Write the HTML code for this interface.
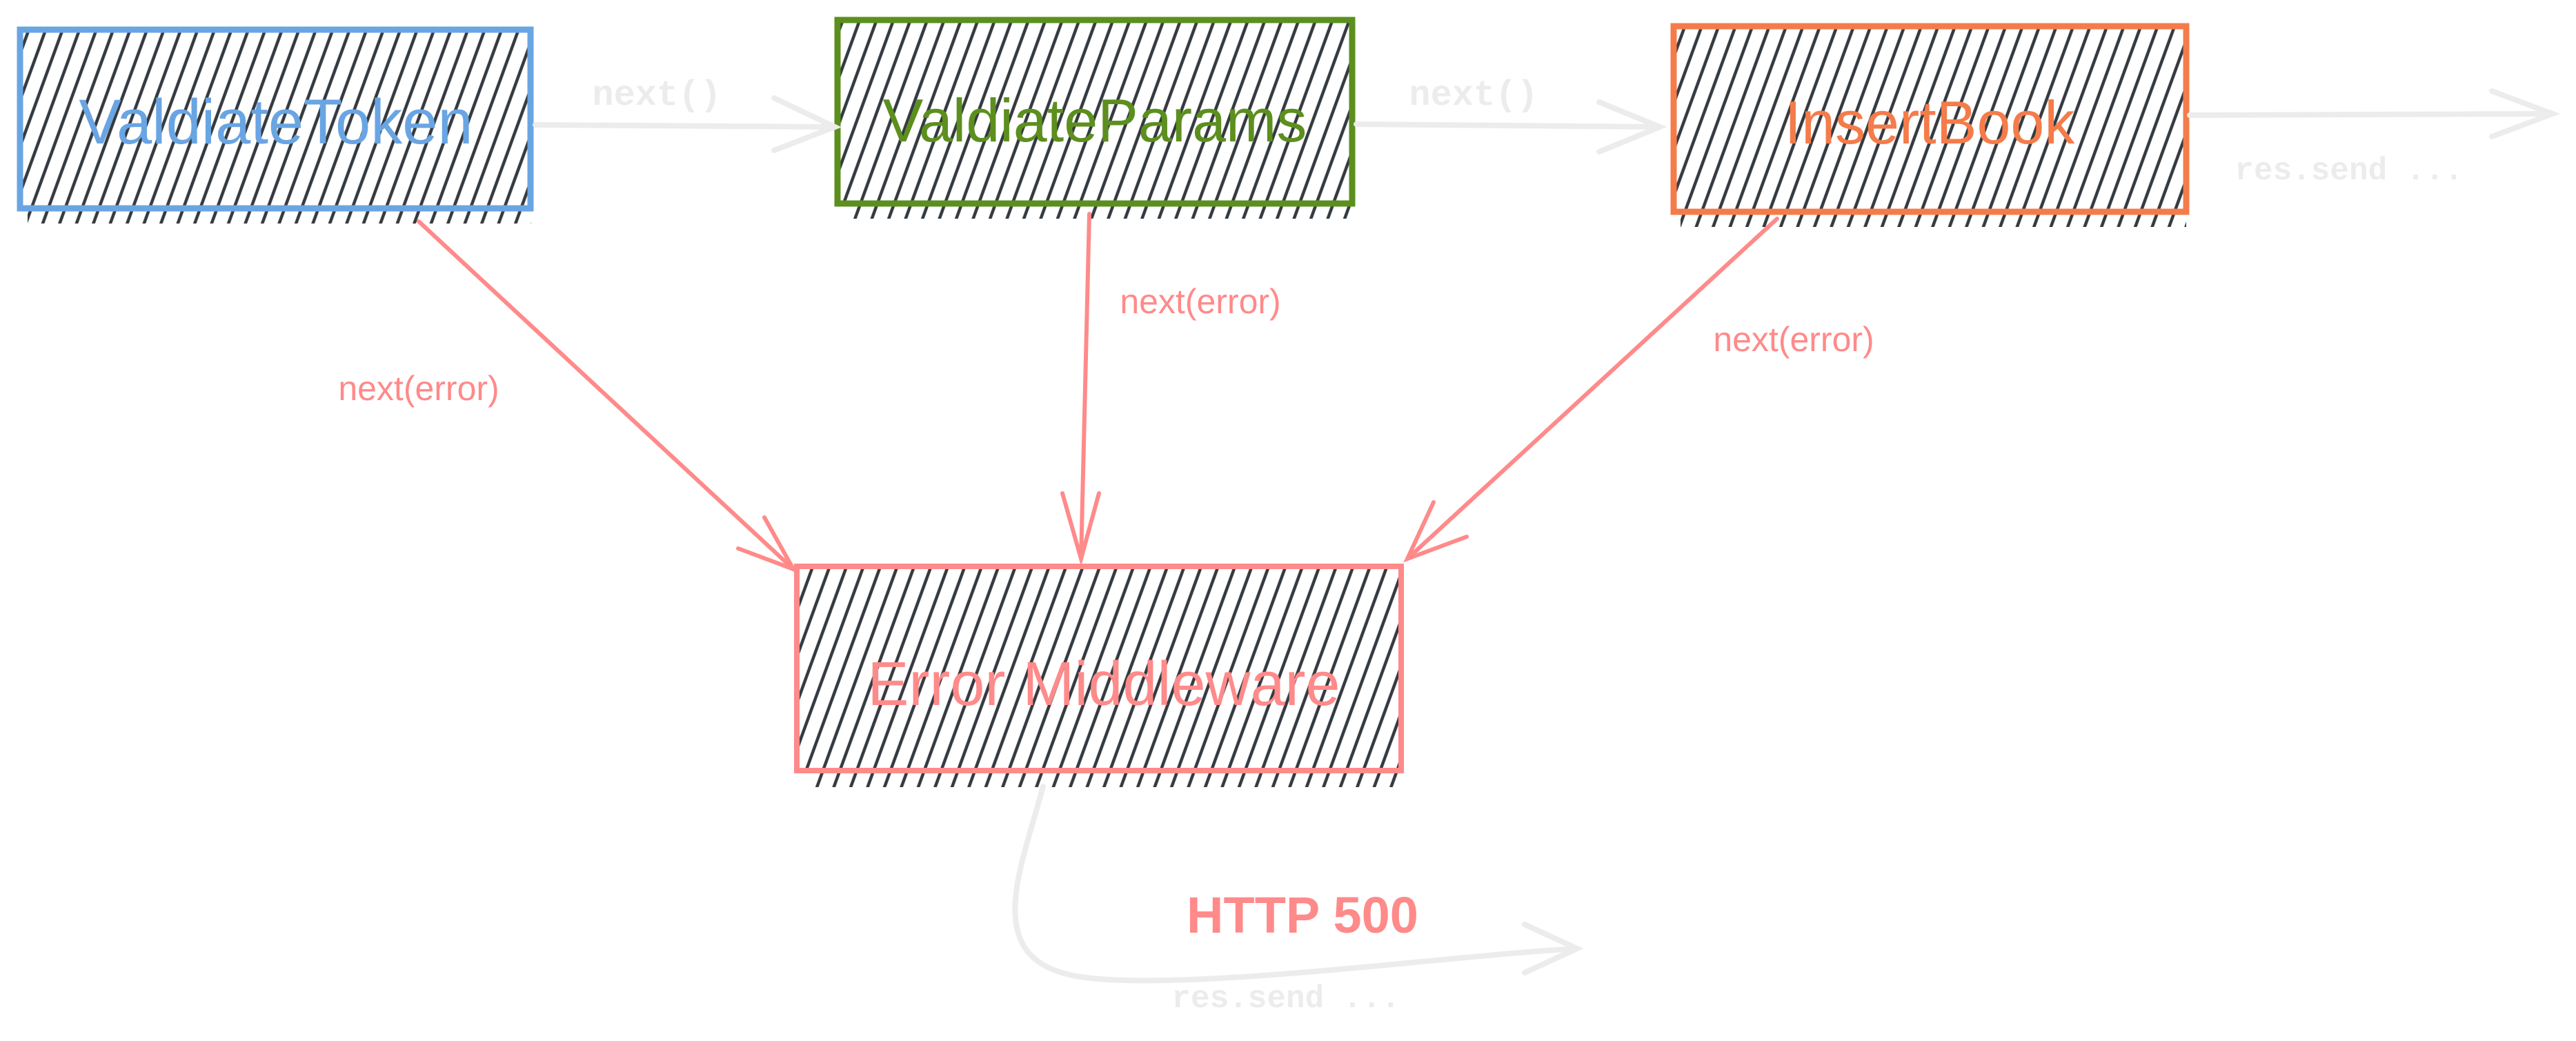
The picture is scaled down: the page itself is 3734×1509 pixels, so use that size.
<!DOCTYPE html>
<html><head><meta charset="utf-8"><style>
html,body{margin:0;padding:0;background:#fff;}
svg{display:block;}
.hand{font-family:"Liberation Sans",sans-serif;}
.mono{font-family:"Liberation Mono",monospace;}
</style></head><body>
<svg width="3734" height="1509" viewBox="0 0 3734 1509" xmlns="http://www.w3.org/2000/svg">
<defs>
<pattern id="h" patternUnits="userSpaceOnUse" width="23" height="60" patternTransform="rotate(20)">
<line x1="8" y1="-5" x2="8" y2="65" stroke="#343a40" stroke-width="4.5"/>
</pattern>
</defs>
<rect width="3734" height="1509" fill="#fff"/>

<!-- hatch overhang bands -->
<rect x="40" y="302" width="730" height="22" fill="url(#h)"/>
<rect x="1225" y="295" width="735" height="22" fill="url(#h)"/>
<rect x="2436" y="307" width="733" height="22" fill="url(#h)"/>
<rect x="1170" y="1117" width="860" height="24" fill="url(#h)"/>

<!-- boxes -->
<rect x="29" y="43" width="740" height="259" fill="url(#h)"/>
<rect x="29" y="43" width="740" height="259" fill="none" stroke="#6aa5e3" stroke-width="9"/>
<text x="400" y="208" text-anchor="middle" class="hand" font-size="92" fill="#6aa5e3">ValdiateToken</text>

<rect x="1214" y="29" width="746" height="266" fill="url(#h)"/>
<rect x="1214" y="29" width="746" height="266" fill="none" stroke="#5c8f1e" stroke-width="9"/>
<text x="1587" y="205" text-anchor="middle" class="hand" font-size="88" fill="#5c8f1e">ValdiateParams</text>

<rect x="2426" y="38" width="743" height="269" fill="url(#h)"/>
<rect x="2426" y="38" width="743" height="269" fill="none" stroke="#f47c4a" stroke-width="9"/>
<text x="2797" y="208" text-anchor="middle" class="hand" font-size="88" fill="#f47c4a">InsertBook</text>

<rect x="1155" y="821" width="876" height="296" fill="url(#h)"/>
<rect x="1155" y="821" width="876" height="296" fill="none" stroke="#ff8a8a" stroke-width="8"/>
<text x="1600" y="1022" text-anchor="middle" class="hand" font-size="90" fill="#ff8a8a">Error Middleware</text>

<!-- gray next arrows -->
<g stroke="#ececec" stroke-width="8" fill="none" stroke-linecap="round">
<path d="M776 181 L1210 184"/><path d="M1122 142 L1210 184 L1122 218"/>
<path d="M1966 180 L2406 184"/><path d="M2318 148 L2406 184 L2318 220"/>
<path d="M3174 167 L3700 165"/><path d="M3612 132 L3700 165 L3612 198"/>
<path d="M1512 1140 C1480 1260 1420 1390 1560 1415 C1700 1440 2100 1385 2286 1375"/>
<path d="M2210 1340 L2286 1375 L2210 1410"/>
</g>
<g class="mono" font-size="52" fill="#ececec" font-weight="bold">
<text x="952" y="152" text-anchor="middle">next()</text>
<text x="2136" y="152" text-anchor="middle">next()</text>
<text x="3405" y="260" text-anchor="middle" font-size="46">res.send ...</text>
<text x="1864" y="1460" text-anchor="middle" font-size="46">res.send ...</text>
</g>

<!-- red arrows -->
<g stroke="#ff8a8a" stroke-width="6" fill="none" stroke-linecap="round">
<path d="M607 321 L1150 825"/><path d="M1108 750 L1150 825 L1070 795"/>
<path d="M1579 310 L1567 810"/><path d="M1540 715 L1567 810 L1593 715"/>
<path d="M2576 317 L2040 810"/><path d="M2078 728 L2040 810 L2126 778"/>
</g>
<g class="hand" font-size="50" fill="#ff8a8a">
<text x="607" y="580" text-anchor="middle">next(error)</text>
<text x="1740" y="454" text-anchor="middle">next(error)</text>
<text x="2600" y="509" text-anchor="middle">next(error)</text>
</g>
<text x="1888" y="1352" text-anchor="middle" class="hand" font-size="74" fill="#ff8a8a" font-weight="bold">HTTP 500</text>
</svg>
</body></html>
